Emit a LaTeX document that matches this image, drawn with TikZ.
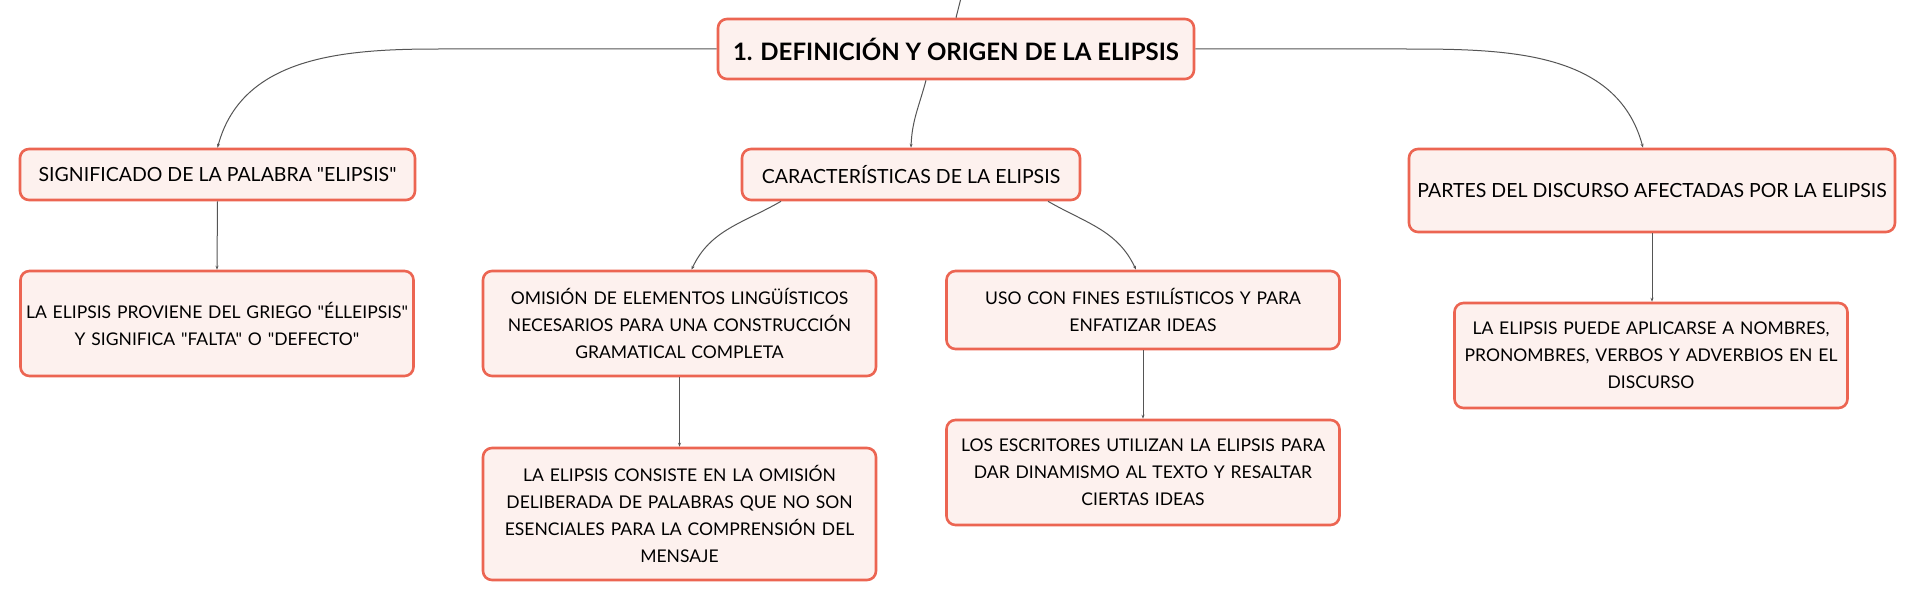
\documentclass[tikz,border=0pt]{standalone}
\usepackage{fontspec}
\newfontfamily\letra{Lato}
\usetikzlibrary{arrows.meta}
\definecolor{borde}{HTML}{EC6552}
\definecolor{relleno}{HTML}{FDF1EE}
\definecolor{linea}{HTML}{555555}
\begin{document}
\begin{tikzpicture}[x=1pt, y=1pt, >={Stealth[length=4pt,width=3pt]}, line join=round,
	caja/.style={draw=borde, fill=relleno, line width=2.6pt, rounded corners=9pt,
		align=center, inner sep=0pt},
	raiz/.style={caja, font=\letra\bfseries\fontsize{24pt}{28pt}\selectfont},
	tema/.style={caja, font=\letra\fontsize{19.5pt}{24pt}\selectfont},
	idea/.style={caja, text width=390pt, minimum width=393pt,
		font=\letra\fontsize{17.5pt}{27pt}\selectfont},
	rama/.style={draw=linea, line width=1pt, ->}]
	%% Marco
	\def\ancho{1914}
	\def\alto{602}
	\path [use as bounding box, fill=white] (0,0) rectangle (\ancho,-\alto);
	%% Nodo central
	\node [raiz, minimum width=476pt, minimum height=60pt] (titulo) at (956,-49)
		{1. DEFINICIÓN Y ORIGEN DE LA ELIPSIS};
	\coordinate (arriba) at (961,2);
	%% Temas
	\node [tema, minimum width=395pt, minimum height=51pt] (significado) at (217.5,-174.5)
		{SIGNIFICADO DE LA PALABRA "ELIPSIS"};
	\node [tema, minimum width=338pt, minimum height=51pt] (caracteristicas) at (911,-174.5)
		{CARACTERÍSTICAS DE LA ELIPSIS};
	\node [tema, minimum width=486pt, minimum height=83pt] (partes) at (1652,-190.5)
		{PARTES DEL DISCURSO AFECTADAS POR LA ELIPSIS};
	%% Ideas
	\node [idea, minimum height=105pt] (origen) at (217,-323.5)
		{LA ELIPSIS PROVIENE DEL GRIEGO "ÉLLEIPSIS"\\ Y SIGNIFICA "FALTA" O "DEFECTO"};
	\node [idea, minimum height=105pt] (omision) at (679.5,-323.5)
		{OMISIÓN DE ELEMENTOS LINGÜÍSTICOS\\ NECESARIOS PARA UNA CONSTRUCCIÓN\\ GRAMATICAL COMPLETA};
	\node [idea, minimum height=78pt] (uso) at (1143,-310)
		{USO CON FINES ESTILÍSTICOS Y PARA\\ ENFATIZAR IDEAS};
	\node [idea, minimum height=132pt] (consiste) at (679.5,-514)
		{LA ELIPSIS CONSISTE EN LA OMISIÓN\\ DELIBERADA DE PALABRAS QUE NO SON\\ ESENCIALES PARA LA COMPRENSIÓN DEL\\ MENSAJE};
	\node [idea, minimum height=105pt] (escritores) at (1143,-472.5)
		{LOS ESCRITORES UTILIZAN LA ELIPSIS PARA\\ DAR DINAMISMO AL TEXTO Y RESALTAR\\ CIERTAS IDEAS};
	\node [idea, minimum height=105pt] (aplicarse) at (1651,-355.5)
		{LA ELIPSIS PUEDE APLICARSE A NOMBRES,\\ PRONOMBRES, VERBOS Y ADVERBIOS EN EL\\ DISCURSO};
	%% Conectores
	\draw [rama, -] (arriba) -- (titulo.north);
	\draw [rama] (titulo.west) -- ++(-278,0) to [out=180, in=75] (significado.north);
	\draw [rama] (titulo.east) -- ++(210,0) to [out=0, in=105] ([xshift=-9pt]partes.north);
	\draw [rama] ([xshift=-30pt]titulo.south) to [out=-105, in=88] (caracteristicas.north);
	\draw [rama] ([xshift=-130pt]caracteristicas.south) to [out=-150, in=65] ([xshift=12pt]omision.north);
	\draw [rama] ([xshift=137pt]caracteristicas.south) to [out=-30, in=115] ([xshift=-7pt]uso.north);
	\draw [rama] (significado.south) -- (origen.north);
	\draw [rama] (omision.south) -- (consiste.north);
	\draw [rama] (uso.south) -- (escritores.north);
	\draw [rama] (partes.south) -- (partes.south |- aplicarse.north);
\end{tikzpicture}
\end{document}
